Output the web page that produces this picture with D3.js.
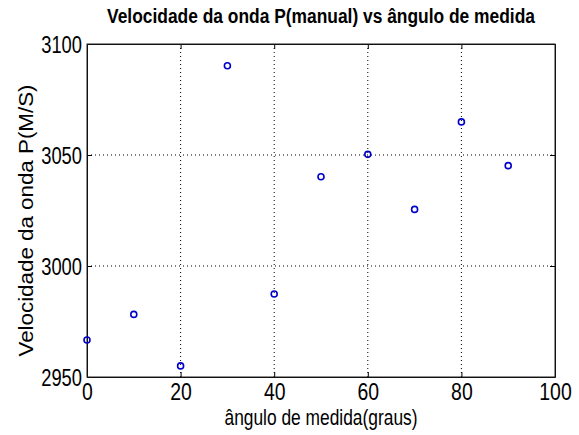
<!DOCTYPE html>
<html>
<head>
<meta charset="utf-8">
<script src="https://cdn.jsdelivr.net/npm/d3@7"></script>
<style>
  body { margin: 0; background: #fff; }
  text { font-family: "Liberation Sans", Arial, sans-serif; fill: #000; }
</style>
</head>
<body>
<div id="chart"></div>
<script>
// angle (graus) and P-wave velocity
var angles = [0, 10, 20, 30, 40, 50, 60, 70, 80, 90];
var velocities = [2966.7, 2978.2, 2955, 3090.2, 2987.4, 3040.2, 3050.3, 3025.5, 3064.9, 3045.2];
var xTicks = [0, 20, 40, 60, 80, 100];
var yTicks = [2950, 3000, 3050, 3100];

var width = 579, height = 435;
var margin = {top: 44, right: 24, bottom: 58, left: 87};
var innerW = width - margin.left - margin.right;
var innerH = height - margin.top - margin.bottom;

var svg = d3.select("#chart")
  .append("svg")
  .attr("width", width)
  .attr("height", height);

var g = svg.append("g")
  .attr("transform", "translate(" + margin.left + "," + margin.top + ")");

var x = d3.scaleLinear().domain([0, 100]).range([0, innerW]);
var y = d3.scaleLinear().domain([2950, 3100]).range([innerH, 0]);

// dotted grid
g.append("g").selectAll("line")
  .data(xTicks.slice(1, -1))
  .join("line")
  .attr("x1", d => x(d)).attr("x2", d => x(d))
  .attr("y1", 0).attr("y2", innerH)
  .attr("stroke", "#000")
  .attr("stroke-width", 1)
  .attr("stroke-dasharray", "1,3");

g.append("g").selectAll("line")
  .data(yTicks.slice(1, -1))
  .join("line")
  .attr("y1", d => y(d)).attr("y2", d => y(d))
  .attr("x1", 0).attr("x2", innerW)
  .attr("stroke", "#000")
  .attr("stroke-width", 1)
  .attr("stroke-dasharray", "1,3");

// axes, ticks pointing inward like matlab
var xAxis = g.append("g")
  .attr("transform", "translate(0," + innerH + ")")
  .call(d3.axisBottom(x).tickValues(xTicks).tickFormat(d3.format("d"))
    .tickSizeInner(-5).tickSizeOuter(0).tickPadding(6));

var yAxis = g.append("g")
  .call(d3.axisLeft(y).tickValues(yTicks).tickFormat(d3.format("d"))
    .tickSizeInner(-5).tickSizeOuter(0).tickPadding(5));

g.append("g")
  .call(d3.axisTop(x).tickValues(xTicks).tickSizeInner(-5).tickSizeOuter(0).tickFormat(""));
g.append("g")
  .attr("transform", "translate(" + innerW + ",0)")
  .call(d3.axisRight(y).tickValues(yTicks).tickSizeInner(-5).tickSizeOuter(0).tickFormat(""));

svg.selectAll(".domain").attr("stroke", "#000");
svg.selectAll(".tick line").attr("stroke", "#000");

// matlab-ish condensed digits
xAxis.selectAll("text")
  .style("font-size", "23px")
  .attr("dy", "0.72em")
  .attr("textLength", d => String(d).length * 10.8)
  .attr("lengthAdjust", "spacingAndGlyphs");
yAxis.selectAll("text")
  .style("font-size", "23px")
  .attr("dy", "0.36em")
  .attr("textLength", d => String(d).length * 10.2)
  .attr("lengthAdjust", "spacingAndGlyphs");

// frame
g.append("rect")
  .attr("width", innerW)
  .attr("height", innerH)
  .attr("fill", "none")
  .attr("stroke", "#222")
  .attr("stroke-width", 1);

// points
g.append("g").selectAll("circle")
  .data(angles)
  .join("circle")
  .attr("cx", d => x(d))
  .attr("cy", (d, i) => y(velocities[i]))
  .attr("r", 3)
  .attr("fill", "none")
  .attr("stroke", "#0000cc")
  .attr("stroke-width", 1.6);

// title
svg.append("text")
  .attr("x", margin.left + innerW / 2)
  .attr("y", 23)
  .attr("text-anchor", "middle")
  .style("font-size", "20px")
  .style("font-weight", "bold")
  .attr("textLength", 428)
  .attr("lengthAdjust", "spacingAndGlyphs")
  .text("Velocidade da onda P(manual) vs ângulo de medida");

// x label
svg.append("text")
  .attr("x", margin.left + innerW / 2)
  .attr("y", 425)
  .attr("text-anchor", "middle")
  .style("font-size", "22px")
  .attr("textLength", 193)
  .attr("lengthAdjust", "spacingAndGlyphs")
  .text("ângulo de medida(graus)");

// y label
svg.append("text")
  .attr("transform", "translate(33," + (margin.top + innerH / 2 + 10) + ") rotate(-90)")
  .attr("text-anchor", "middle")
  .style("font-size", "21px")
  .attr("textLength", 272)
  .attr("lengthAdjust", "spacingAndGlyphs")
  .text("Velocidade da onda P(M/S)");
</script>
</body>
</html>
